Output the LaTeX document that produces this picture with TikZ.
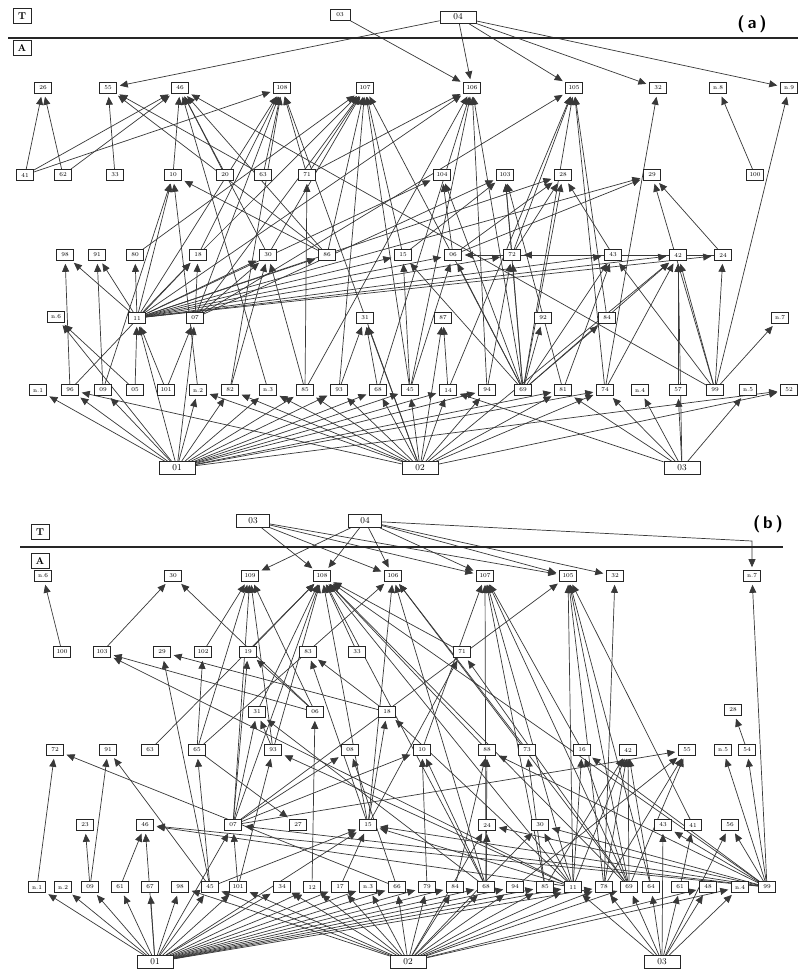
\documentclass[tikz,border=0pt]{standalone}
\usetikzlibrary{arrows.meta}
\pgfdeclarelayer{back}
\pgfdeclarelayer{bg}
\pgfsetlayers{back,bg,main}
\begin{document}
\begin{tikzpicture}[x=1pt,y=-1pt,
  nb/.style={draw=black!85, line width=0.6pt, fill=white, font=\fontsize{6}{6}\selectfont, inner sep=1pt, minimum width=17pt, minimum height=11pt},
  big/.style={draw=black!85, line width=0.7pt, fill=white, font=\fontsize{9}{9}\selectfont, inner sep=1pt, minimum width=36pt, minimum height=13pt},
  lab/.style={draw=black!85, line width=1pt, font=\bfseries\fontsize{10}{10}\selectfont, inner sep=1pt, minimum width=18pt, minimum height=15pt},
  ttl/.style={font=\sffamily\bfseries\fontsize{17}{17}\selectfont},
  sep/.style={draw=black!85, line width=1.1pt},
  e/.style={draw=black!78, line width=0.7pt, -{Triangle[length=8pt,width=7pt]}, shorten >=3pt}]
\useasboundingbox (0,0) rectangle (800,970);
\begin{pgfonlayer}{back}
\fill[white] (0,0) rectangle (800,970);
\end{pgfonlayer}

% ================= panel (a) =================
\node[lab] (aT) at (22,16) {T};
\node[lab] (aA) at (22,48) {A};
\draw[sep] (8,38) -- (798,38);
\node[ttl] (alab) at (752,24) {(\,a\,)};
\node[nb, minimum width=20pt] (a03t) at (340,15) {03};
\node[big, minimum height=12pt] (a04) at (458,17) {04};
% row 1
\foreach \n/\x in {26/43,55/108,46/180,108/282,107/365,106/472,105/574,32/658}
  \node[nb] (a\n) at (\x,88) {\n};
\node[nb] (an8) at (718,88) {n.8};
\node[nb] (an9) at (789,88) {n.9};
% row 2
\foreach \n/\x in {41/25,62/63,33/115,10/173,20/225,63/263,71/307,104/442,103/505,28/563,29/652,100/755}
  \node[nb] (a\n) at (\x,175) {\n};
% row 3
\foreach \n/\x in {98/65,91/97,80/135,18/198,30/268,86/327,15/403,06/453,72/512,43/613,42/678,24/723}
  \node[nb] (a\n) at (\x,255) {\n};
% row 4
\node[nb] (an6) at (56,317) {n.6};
\foreach \n/\x in {11/137,07/195,31/365,87/443,92/543,84/607}
  \node[nb] (a\n) at (\x,318) {\n};
\node[nb] (an7) at (780,318) {n.7};
% row 5
\foreach \n/\x in {96/70,09/103,05/135,101/166,82/230,85/305,93/339,68/378,45/410,14/448,94/487,69/523,81/563,74/605,57/678,99/715,52/789}
  \node[nb] (a\n) at (\x,390) {\n};
\foreach \n/\x in {1/38,2/198,3/268,4/640,5/748}
  \node[nb] (an\n) at (\x,390) {n.\n};
% bottom
\node[big] (a01) at (177,468) {01};
\node[big] (a02) at (420,468) {02};
\node[big] (a03) at (682,468) {03};

\begin{pgfonlayer}{bg}
\foreach \s/\t in {a04/a55,a04/a106,a04/a105,a04/a32,a04/an9,a03t/a106,
 a01/an1,a01/a96,a01/a09,a01/a11,a01/a07,a01/an2,a01/a82,a01/an3,a01/a85,a01/a93,a01/a68,a01/a45,a01/a14,a01/a81,a01/a74,a01/a52,a01/an6,a01/a94,
 a02/a96,a02/an2,a02/a82,a02/an3,a02/a85,a02/a93,a02/a68,a02/a45,a02/a14,a02/a94,a02/a81,a02/a74,a02/a52,a02/a87,a02/a31,a02/a108,a02/a42,
 a03/a81,a03/a74,a03/an4,a03/a57,a03/an5,a03/a14,a03/a42,
 a05/an6,a05/a11,a101/a07,a101/a11,a09/a91,a09/a10,a96/a98,a96/a18,
 a11/a98,a11/a91,a11/a80,a11/a18,a11/a30,a11/a86,a11/a15,a11/a06,a11/a72,a11/a43,a11/a42,a11/a24,a11/a10,a11/a104,a11/a28,a11/a29,a11/a106,a11/a108,
 a07/a18,a07/a30,a07/a103,a07/a108,a07/a105,a07/a107,
 an2/a10,a82/a30,a82/a108,an3/a46,a85/a71,a85/a106,a85/a30,a93/a107,a93/a31,a68/a31,a68/a106,
 a45/a15,a45/a106,a45/a107,a45/a06,a14/a87,a14/a105,a94/a72,a94/a106,
 a69/a92,a69/a84,a69/a15,a69/a06,a69/a72,a69/a104,a69/a107,a69/a106,a69/a28,a69/a43,a69/a103,a69/a105,a69/a42,
 a81/a43,a81/a103,a74/a32,a74/a105,a74/a42,a84/a105,a57/a42,
 a99/an9,a99/an7,a99/a42,a99/a24,a99/a29,a99/a43,a99/a46,
 a100/an8,a41/a26,a41/a108,a41/a46,a62/a26,a62/a46,a33/a55,a20/a46,a63/a55,a63/a108,a71/a108,a71/a107,a71/a106,
 a10/a46,a86/a55,a86/a10,a86/a46,a86/a107,a30/a46,a30/a107,a18/a108,a18/a107,a80/a107,a15/a107,a06/a104,a06/a28,a72/a103,a72/a105,a24/a29,a24/a72,a43/a28,a42/a06,a15/a103,a06/a29,a72/a28}
  \draw[e] (\s) -- (\t);
\end{pgfonlayer}

% ================= panel (b) =================
\node[lab] (bT) at (40,532) {T};
\node[lab] (bA) at (40,561) {A};
\draw[sep] (20,547) -- (783,547);
\node[ttl] (blab) at (768,524) {(\,b\,)};
\node[big, minimum width=33pt] (b03t) at (253,521) {03};
\node[big, minimum width=33pt] (b04) at (365,521) {04};
% row 1
\node[nb] (bn6) at (43,576) {n.6};
\foreach \n/\x in {30/173,109/250,108/322,106/393,107/485,105/568,32/615}
  \node[nb] (b\n) at (\x,576) {\n};
\node[nb] (bn7) at (752,576) {n.7};
% row 2
\foreach \n/\x in {100/62,103/102,29/162,102/203,19/248,83/308,33/357,71/462}
  \node[nb] (b\n) at (\x,652) {\n};
% row 3
\foreach \n/\x in {31/257,06/315,18/387}
  \node[nb] (b\n) at (\x,712) {\n};
\node[nb] (b28) at (733,710) {28};
% row 4
\foreach \n/\x in {72/55,91/108,63/150,65/197,93/273,08/350,10/422,88/487,73/527,16/582,42/628,55/687,54/747}
  \node[nb] (b\n) at (\x,750) {\n};
\node[nb] (bn5) at (723,750) {n.5};
% row 5
\foreach \n/\x in {23/85,46/145,07/233,27/298,15/368,24/487,43/663,41/693,56/730}
  \node[nb] (b\n) at (\x,825) {\n};
\node[nb] (b30b) at (540,825) {30};
% row 6
\foreach \n/\x in {09/90,61/120,67/150,98/180,45/210,101/238,34/282,12/312,17/340,66/397,79/427,84/455,68/486,94/515,85/545,11/573,78/604,69/629,64/651,48/708,99/767}
  \node[nb] (b\n) at (\x,887) {\n};
\node[nb] (b61b) at (680,887) {61};
\foreach \n/\x in {1/37,2/63,3/368,4/740}
  \node[nb] (bn\n) at (\x,887) {n.\n};
% bottom
\node[big] (b01) at (155,962) {01};
\node[big] (b02) at (408,962) {02};
\node[big] (b03) at (662,962) {03};
\coordinate (bk) at (752,541);

\begin{pgfonlayer}{bg}
\draw[e] (b04) -- (bk) -- (bn7);
\foreach \s/\t in {b04/b109,b04/b108,b04/b106,b04/b107,b04/b105,b04/b32,b03t/b108,b03t/b107,b03t/b105,b03t/b106,
 b01/bn1,b01/bn2,b01/b09,b01/b61,b01/b67,b01/b98,b01/b45,b01/b101,b01/b34,b01/b12,b01/b17,b01/bn3,b01/b66,b01/b79,b01/b84,b01/b68,b01/b94,b01/b85,b01/b11,b01/b78,b01/b46,b01/b07,b01/b15,
 b02/b45,b02/b98,b02/b101,b02/b34,b02/b12,b02/b17,b02/bn3,b02/b66,b02/b79,b02/b84,b02/b68,b02/b94,b02/b85,b02/b11,b02/b78,b02/b48,b02/bn4,b02/b69,b02/b24,b02/b30b,
 b03/b64,b03/b61b,b03/b48,b03/bn4,b03/b56,b03/b43,b03/b78,b03/b11,b03/b69,
 b99/bn7,b99/b56,b99/b43,b99/b30b,b99/b24,b99/b15,b99/b07,b99/b46,b99/b16,b99/b88,b99/bn5,b99/b54,b99/b108,
 b54/b28,b100/bn6,b103/b30,b06/b30,
 bn1/b72,b66/b72,b09/b91,b45/b91,b45/b65,b101/b93,b11/b93,b66/b08,b07/b08,b07/b31,b93/b31,b68/b31,b07/b19,b06/b19,b15/b83,b45/b29,b18/b29,b11/b103,b15/b18,b11/b18,b69/b71,b15/b71,b68/b10,b07/b10,b68/b88,b85/b73,b11/b16,b69/b16,b69/b42,b78/b42,b64/b42,b11/b42,b69/b55,b78/b55,b07/b55,b09/b23,b61/b46,b11/b46,b101/b07,b65/b27,b45/b15,b11/b15,b68/b24,b11/b30b,
 b07/b109,b65/b109,b102/b109,b06/b109,b93/b109,b15/b108,b07/b108,b93/b108,b11/b108,b68/b108,b19/b108,b31/b108,b88/b108,b69/b108,b15/b106,b65/b106,b69/b106,b68/b106,b11/b107,b69/b107,b68/b107,b16/b107,b10/b107,b85/b107,b69/b105,b11/b105,b78/b105,b64/b105,b41/b105,b07/b105,b78/b32,
 b06/b103,b18/b83,b65/b102,b63/b108,b61b/b41,b12/b06,b17/b15,b79/b10,b84/b88,b94/b55,b85/b42,b33/b108,b71/b108,b73/b106}
  \draw[e] (\s) -- (\t);
\end{pgfonlayer}
\end{tikzpicture}
\end{document}
